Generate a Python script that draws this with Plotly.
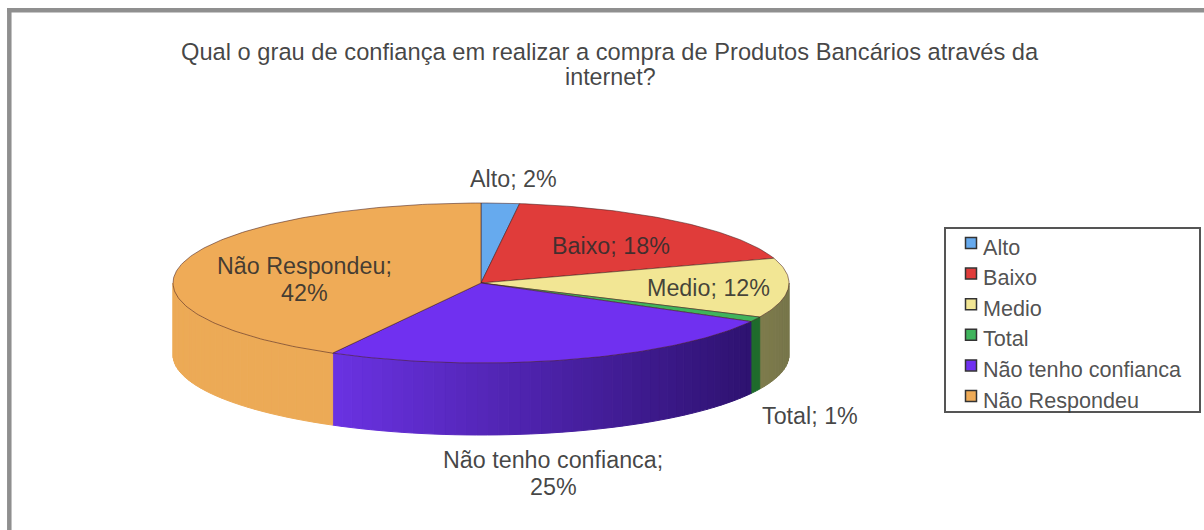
import numpy as np
import plotly.graph_objects as go

# Survey answers, in percent
categories = ["Alto", "Baixo", "Medio", "Total", "Não tenho confianca", "Não Respondeu"]
percentages = [2, 18, 12, 1, 25, 42]

# Colours of each slice: top face, side face (start, end of the gradient), legend swatch
top_colors = ["#66aaee", "#e03c3a", "#f2e694", "#3fb45c", "#7030f0", "#efab57"]
side_start = ["#4c80b4", "#a92d2c", "#7d7b4c", "#1f6b2c", "#6a32e2", "#ecaa56"]
side_end = ["#4c80b4", "#a92d2c", "#77754a", "#1f6b2c", "#2e1270", "#ecaa56"]

# Label centre points on the canvas, by category
label_positions = {
    "Alto": (513, 179),
    "Baixo": (611, 246),
    "Medio": (708, 288),
    "Total": (810, 416),
    "Não tenho confianca": (553, 473),
    "Não Respondeu": (304, 279),
}
label_breaks = {"Não tenho confianca", "Não Respondeu"}

TITLE_LINES = ["Qual o grau de confiança em realizar a compra de Produtos Bancários através da", "internet?"]
WIDTH, HEIGHT = 1204, 530
CX, CY, RX, RY, DEPTH = 481, 283, 308, 80, 72
FONT = "Liberation Sans, Arial, sans-serif"
TITLE_SIZE = 23.7
TEXT_SIZE = 23.3
LEGEND_SIZE = 21.6
TEXT_COLOR = "rgba(45,45,45,0.88)"


def rim(t):
    """Point on the top ellipse for a clockwise angle in degrees from 12 o'clock."""
    a = np.radians(t)
    return CX + RX * np.sin(a), CY - RY * np.cos(a)


def mix(c0, c1, f):
    rgb0 = [int(c0[i:i + 2], 16) for i in (1, 3, 5)]
    rgb1 = [int(c1[i:i + 2], 16) for i in (1, 3, 5)]
    return "rgb(%d,%d,%d)" % tuple(round(a + (b - a) * f) for a, b in zip(rgb0, rgb1))


def text_line(text, x, y, size=TEXT_SIZE, color=TEXT_COLOR, anchor="center"):
    return dict(x=x, y=y, xref="x", yref="y", text=text, showarrow=False,
                font=dict(family=FONT, size=size, color=color),
                xanchor=anchor, yanchor="middle")


fig = go.Figure()
edges = np.concatenate([[0], np.cumsum(percentages)]) * 3.6

# Side wall: only the front half of the disc (90 to 270 degrees) is visible
for i in range(len(categories)):
    lo, hi = max(edges[i], 90), min(edges[i + 1], 270)
    if hi <= lo:
        continue
    steps = max(2, int((hi - lo) / 2))
    cuts = np.linspace(lo, hi, steps + 1)
    x_lo, _ = rim(lo)
    x_hi, _ = rim(hi)
    for s in range(steps):
        ts = np.linspace(cuts[s], cuts[s + 1], 5)
        xs, ys = rim(ts)
        px = np.concatenate([xs, xs[::-1]])
        py = np.concatenate([ys, ys[::-1] + DEPTH])
        frac = (x_lo - xs.mean()) / max(x_lo - x_hi, 1)
        # gradient runs from the left end of the wall to its right end
        col = mix(side_start[i], side_end[i], 1 - frac)
        fig.add_trace(go.Scatter(
            x=np.append(px, px[0]), y=np.append(py, py[0]), mode="lines", fill="toself",
            fillcolor=col, line=dict(color=col, width=1),
            hoverinfo="skip", showlegend=False,
        ))

# Top faces
for i, name in enumerate(categories):
    ts = np.linspace(edges[i], edges[i + 1], max(3, int(edges[i + 1] - edges[i]) + 2))
    xs, ys = rim(ts)
    fig.add_trace(go.Scatter(
        x=np.concatenate([[CX], xs, [CX]]), y=np.concatenate([[CY], ys, [CY]]),
        mode="lines", fill="toself", fillcolor=top_colors[i],
        line=dict(color="rgba(70,30,30,0.55)", width=1),
        name=name, hovertemplate=f"{name}: {percentages[i]}%<extra></extra>", showlegend=False,
    ))

annotations = [
    text_line(TITLE_LINES[0], 610, 52, size=TITLE_SIZE),
    text_line(TITLE_LINES[1], 610, 76.5, size=TEXT_SIZE),
]

# Slice labels; the two long ones wrap after the semicolon
for name, value in zip(categories, percentages):
    x, y = label_positions[name]
    if name in label_breaks:
        annotations.append(text_line(f"{name};", x, y - 13.5))
        annotations.append(text_line(f"{value}%", x, y + 13.5))
    else:
        annotations.append(text_line(f"{name}; {value}%", x, y))

# Hand-built legend box: tight swatches sitting right against their captions
LEGEND_LEFT, LEGEND_TOP, LEGEND_RIGHT, LEGEND_BOTTOM = 945, 228, 1200, 412
ROW_FIRST, ROW_PITCH = 247, 30.6
rows = [ROW_FIRST + ROW_PITCH * i for i in range(len(categories))]
fig.add_trace(go.Scatter(
    x=[971] * len(categories), y=[r - 4 for r in rows], mode="markers",
    marker=dict(symbol="square", size=11, color=top_colors, line=dict(color="#333333", width=1.5)),
    hoverinfo="skip", showlegend=False,
))
for name, r in zip(categories, rows):
    annotations.append(text_line(name, 981, r, size=LEGEND_SIZE, color="rgba(60,60,60,0.9)", anchor="left"))

# Chart frame: open towards the right and bottom edges of the canvas
frame = dict(type="line", xref="x", yref="y", line=dict(color="#8f8f8f", width=4.5))
shapes = [
    dict(frame, x0=9.3, y0=8, x1=9.3, y1=HEIGHT),
    dict(frame, x0=7, y0=10.2, x1=WIDTH, y1=10.2),
    dict(type="rect", xref="x", yref="y", x0=LEGEND_LEFT, y0=LEGEND_TOP, x1=LEGEND_RIGHT, y1=LEGEND_BOTTOM,
         line=dict(color="#555555", width=2), fillcolor="white", layer="below"),
]

fig.update_layout(
    width=WIDTH, height=HEIGHT, margin=dict(l=0, r=0, t=0, b=0),
    paper_bgcolor="white", plot_bgcolor="white", showlegend=False,
    xaxis=dict(range=[0, WIDTH], visible=False, fixedrange=True),
    yaxis=dict(range=[HEIGHT, 0], visible=False, fixedrange=True),
    annotations=annotations, shapes=shapes,
)

fig.write_html("out.html")
